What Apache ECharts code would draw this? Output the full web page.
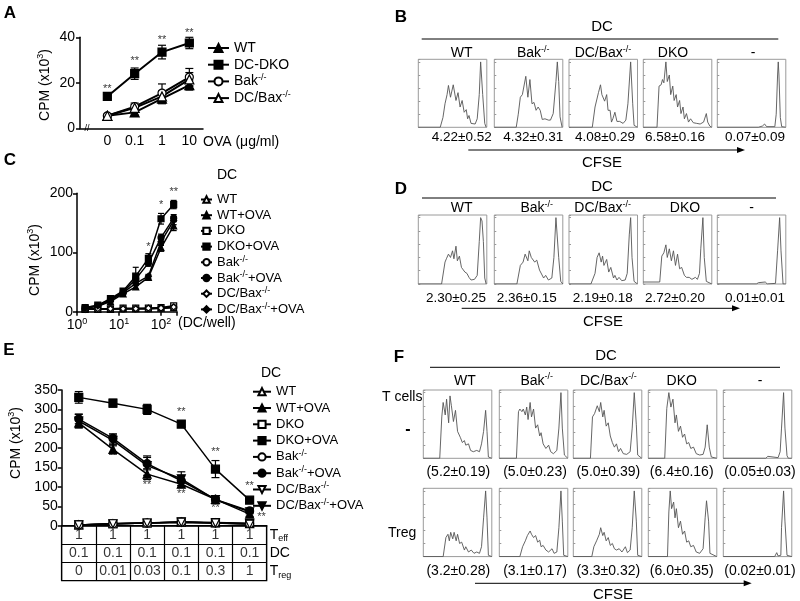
<!DOCTYPE html>
<html><head><meta charset="utf-8">
<script src="https://cdn.jsdelivr.net/npm/echarts@6/dist/echarts.min.js"></script>
<style>html,body{margin:0;padding:0;background:#fff}#c{width:800px;height:601px}</style>
</head><body><div id="c"></div>
<script>
// ================= DATA =================
// ---- Panel A : CPM (x10^3) vs OVA dose ----
const ovaLabels = ['0', '0.1', '1', '10'];
const aNames = ['WT', 'DC-DKO', 'Bak-/-', 'DC/Bax-/-'];
const aWT = [5.5, 7, 13, 19];
const aWTerr = [0.6, 1.2, 2.2, 2.2];
const aDKO = [14, 24, 33.5, 37.5];
const aDKOerr = [0.8, 2.5, 3, 2.5];
const aBak = [5.5, 9.5, 15.5, 22.5];
const aBakErr = [0.6, 1.6, 4, 3.8];
const aBax = [5.5, 9, 14, 21.5];
const aBaxErr = [0.6, 1.5, 2.5, 3];
const aSigText = ['**', '**', '**', '**'];
const aSigY = [17.5, 29.5, 39, 42];

// ---- Panel C : CPM vs DC/well ----
const cDCwell = [1.5625, 3.125, 6.25, 12.5, 25, 50, 100, 200];
const cTickValues = [1, 10, 100];
const cTickLabels = ['10^0', '10^1', '10^2'];
const cNames = ['WT', 'WT+OVA', 'DKO', 'DKO+OVA', 'Bak-/-', 'Bak-/-+OVA', 'DC/Bax-/-', 'DC/Bax-/-+OVA'];
const cWT = [4, 4, 4, 5, 5, 5, 6, 7];
const cWTova = [6, 9, 17, 30, 42, 58, 108, 145];
const cWTovaErr = [1, 1, 2, 3, 4, 3, 6, 8];
const cDKO = [5, 5, 5, 6, 6, 6, 7, 10];
const cDKOova = [7, 11, 22, 35, 60, 90, 157, 181];
const cDKOovaErr = [1, 1, 2, 3, 15, 8, 9, 7];
const cBak = [4, 4, 5, 5, 5, 5, 6, 7];
const cBakOva = [7, 10, 21, 33, 55, 82, 125, 158];
const cBakOvaErr = [1, 1, 2, 3, 4, 5, 6, 6];
const cBax = [4, 5, 5, 5, 5, 6, 6, 8];
const cBaxOva = [6, 10, 19, 32, 48, 60, 118, 154];
const cBaxOvaErr = [1, 1, 2, 3, 4, 3, 6, 7];
const cSigX = [50, 100, 200];
const cSigY = [109, 180, 203];
const cSigText = ['*', '*', '**'];

// ---- Panel E : CPM vs Treg ratio ----
const eTeffRow = ['1', '1', '1', '1', '1', '1'];
const eDCRow = ['0.1', '0.1', '0.1', '0.1', '0.1', '0.1'];
const eTregRow = ['0', '0.01', '0.03', '0.1', '0.3', '1'];
const eRowLabels = ['T_eff', 'DC', 'T_reg'];
const eNames = ['WT', 'WT+OVA', 'DKO', 'DKO+OVA', 'Bak-/-', 'Bak-/-+OVA', 'DC/Bax-/-', 'DC/Bax-/-+OVA'];
const eWT = [2, 5, 7, 9, 7, 5];
const eWTova = [265, 197, 133, 107, 68, 30];
const eWTovaErr = [12, 12, 14, 8, 4, 6];
const eDKO = [2, 5, 7, 10, 8, 6];
const eDKOova = [331, 316, 300, 262, 146, 66];
const eDKOovaErr = [15, 10, 13, 8, 22, 3];
const eBak = [2, 5, 7, 9, 7, 5];
const eBakOva = [275, 225, 160, 116, 68, 38];
const eBakOvaErr = [12, 12, 16, 12, 4, 4];
const eBax = [2, 5, 7, 9, 7, 4];
const eBaxOva = [270, 220, 155, 121, 67, 36];
const eBaxOvaErr = [18, 14, 25, 18, 4, 5];
const eSigAboveX = [3, 4, 5];
const eSigAboveY = [293, 191, 102];
const eSigBelowX = [1, 2, 3, 4];
const eSigBelowY = [180, 104, 83, 45];
const eSigRightY = 28; // the one beside the last point
const eSigText = '**';

// ---- Histograms (CFSE intensity %, relative count %) ----
const histColLabels = ['WT', 'Bak-/-', 'DC/Bax-/-', 'DKO', '-'];
const bValues = ['4.22±0.52', '4.32±0.31', '4.08±0.29', '6.58±0.16', '0.07±0.09'];
const dValues = ['2.30±0.25', '2.36±0.15', '2.19±0.18', '2.72±0.20', '0.01±0.01'];
const f1Values = ['(5.2±0.19)', '(5.0±0.23)', '(5.0±0.39)', '(6.4±0.16)', '(0.05±0.03)'];
const f2Values = ['(3.2±0.28)', '(3.1±0.17)', '(3.3±0.32)', '(6.0±0.35)', '(0.02±0.01)'];

const histB_WT = [[0,0],[32,0],[36,15],[39,36],[42,50],[44,64],[47,46],[51,65],[55,41],[58,53],[61,31],[64,41],[67,23],[70,27],[72,13],[74,18],[77,6],[83,5],[86,13],[89,50],[91,100],[94,50],[97,6],[99,0],[100,0]];
const histB_Bak = [[0,0],[32,0],[35,20],[38,46],[41,50],[46,78],[49,46],[52,73],[55,36],[58,38],[61,26],[64,31],[67,26],[70,12],[74,13],[79,11],[82,11],[86,21],[90,70],[92,100],[94,70],[96,16],[99,0],[100,0]];
const histB_Bax = [[0,0],[34,0],[38,31],[43,53],[46,65],[48,50],[50,51],[52,40],[55,50],[57,26],[60,26],[62,8],[64,13],[67,23],[70,9],[74,9],[79,6],[83,11],[86,36],[90,100],[93,36],[95,3],[100,0]];
const histB_DKO = [[0,0],[20,0],[23,63],[26,65],[28,73],[30,68],[33,100],[35,70],[38,80],[40,50],[43,63],[45,41],[48,50],[50,31],[53,41],[55,21],[58,31],[60,13],[63,21],[66,8],[69,13],[73,7],[78,6],[83,5],[88,8],[92,21],[94,8],[97,2],[100,0]];
const histB_None = [[0,0],[60,0],[66,2],[69,5],[72,1],[84,1],[86,20],[88,80],[89,100],[90,80],[92,15],[94,1],[100,0]];

const histD_WT = [[0,0],[34,0],[39,33],[41,38],[44,45],[47,40],[50,50],[52,38],[55,57],[57,35],[60,42],[63,25],[65,28],[68,18],[71,16],[74,10],[77,6],[82,7],[86,13],[89,64],[91,100],[93,95],[95,64],[97,9],[99,0],[100,0]];
const histD_Bak = [[0,0],[33,0],[38,28],[42,33],[45,45],[49,35],[51,50],[54,40],[56,42],[59,33],[62,36],[66,21],[68,18],[72,9],[75,13],[79,6],[84,9],[87,40],[90,100],[92,98],[94,40],[97,4],[100,0]];
const histD_Bax = [[0,0],[32,0],[38,16],[41,40],[44,47],[47,33],[49,42],[51,28],[55,37],[58,18],[61,25],[65,9],[67,13],[70,6],[73,10],[77,5],[82,6],[85,16],[88,74],[90,100],[92,40],[95,4],[100,0]];
const histD_DKO = [[0,3],[24,3],[27,42],[30,47],[33,59],[35,40],[38,53],[41,35],[44,50],[47,28],[50,45],[53,23],[56,25],[60,13],[63,10],[67,10],[71,7],[76,10],[79,7],[82,16],[84,54],[87,100],[89,40],[92,4],[100,0]];
const histD_None = [[0,0],[57,0],[60,2],[62,0],[70,3],[73,0],[85,1],[88,50],[91,100],[93,50],[96,0],[100,0]];

const histF1_WT = [[0,0],[24,0],[27,63],[29,85],[32,66],[34,90],[37,54],[39,95],[41,80],[44,56],[47,73],[50,41],[54,32],[57,24],[60,27],[62,20],[66,22],[69,12],[73,10],[78,12],[82,10],[85,22],[88,41],[91,73],[93,41],[95,2],[100,0]];
const histF1_Bak = [[0,0],[25,0],[28,71],[30,75],[33,71],[35,75],[38,66],[40,78],[42,59],[45,85],[47,63],[50,75],[53,46],[56,51],[59,34],[61,39],[64,22],[68,15],[72,20],[75,10],[79,7],[84,12],[87,46],[90,100],[92,46],[95,5],[100,0]];
const histF1_Bax = [[0,0],[25,0],[28,63],[31,68],[33,66],[35,80],[38,71],[40,85],[43,63],[45,73],[48,49],[51,54],[54,34],[57,24],[60,17],[63,22],[66,10],[69,15],[73,7],[78,6],[83,10],[86,46],[89,100],[92,51],[94,5],[100,0]];
const histF1_DKO = [[0,0],[24,0],[27,76],[30,100],[33,78],[36,90],[39,54],[41,66],[44,41],[47,49],[50,32],[53,37],[56,22],[59,24],[62,15],[66,17],[70,7],[75,5],[80,6],[83,17],[86,51],[89,17],[92,2],[100,0]];
const histF1_None = [[0,0],[62,0],[65,3],[67,1],[80,1],[83,10],[85,46],[88,100],[90,46],[93,4],[95,0],[100,0]];

const histF2_WT = [[0,0],[29,0],[33,29],[36,34],[38,24],[40,37],[43,27],[45,37],[48,24],[50,34],[53,20],[56,22],[60,10],[62,15],[66,7],[70,10],[74,5],[78,7],[82,5],[85,15],[88,59],[91,100],[93,59],[95,2],[100,0]];
const histF2_Bak = [[0,0],[30,0],[34,15],[38,24],[41,32],[45,39],[47,34],[50,29],[53,32],[56,22],[59,25],[61,15],[64,17],[68,10],[72,7],[77,12],[80,5],[84,7],[87,44],[90,100],[92,54],[94,2],[100,0]];
const histF2_Bax = [[0,0],[27,0],[30,15],[34,24],[38,34],[40,44],[43,32],[45,37],[48,24],[51,29],[54,17],[57,20],[60,12],[63,10],[67,12],[71,7],[76,15],[79,6],[83,10],[86,44],[89,100],[92,54],[94,2],[100,0]];
const histF2_DKO = [[0,0],[28,0],[30,68],[32,100],[34,73],[37,83],[39,59],[41,73],[44,44],[47,54],[50,34],[53,39],[56,22],[59,24],[62,15],[66,17],[70,7],[75,5],[80,12],[83,59],[85,85],[88,54],[90,5],[100,0]];
const histF2_None = [[0,0],[75,0],[78,6],[80,1],[84,2],[85,44],[88,100],[90,54],[93,2],[100,0]];

// ================= BUILD =================
const FF = '"Liberation Sans", Arial, Helvetica, sans-serif';
const RICH = {
  sup: { fontSize: 9, lineHeight: 8, verticalAlign: 'top', fontFamily: FF, color: '#000' },
  sub: { fontSize: 9, lineHeight: 8, verticalAlign: 'bottom', fontFamily: FF, color: '#000' }
};
function rt(s) {
  return s.replace('-/-', '{sup|-/-}').replace(/\^(\w+)/, '{sup|$1}').replace(/_(\w+)/, '{sub|$1}');
}
const DOWN_TRI = 'path://M0,0L10,0L5,9Z';

const grids = [], xAxes = [], yAxes = [], series = [], graphics = [], legends = [];
function addGrid(g, xa, ya) {
  grids.push(g);
  const gi = grids.length - 1;
  xa.gridIndex = gi; ya.gridIndex = gi;
  xAxes.push(xa); yAxes.push(ya);
  return gi;
}
const blackAxisLine = { show: true, lineStyle: { color: '#000', width: 1.5 } };
const tickLabel = (size) => ({ fontSize: size, fontFamily: FF, color: '#000' });

function lineSeries(gi, name, data, sym, filled, size, lw) {
  return {
    type: 'line', name: name, xAxisIndex: gi, yAxisIndex: gi, data: data,
    symbol: sym, symbolSize: size, showSymbol: true, z: 3,
    lineStyle: { color: '#000', width: lw },
    itemStyle: { color: filled ? '#000' : '#fff', borderColor: '#000', borderWidth: 1.2 },
    emphasis: { disabled: true }, animation: false
  };
}
function errSeries(gi, xs, ys, es, cap) {
  return {
    type: 'custom', xAxisIndex: gi, yAxisIndex: gi, z: 2, animation: false, silent: true,
    data: xs.map((x, i) => [x, ys[i] - es[i], ys[i] + es[i]]),
    encode: { x: 0, y: [1, 2] },
    renderItem: function (params, api) {
      const x = api.value(0);
      const p1 = api.coord([x, api.value(1)]);
      const p2 = api.coord([x, api.value(2)]);
      const st = { stroke: '#000', lineWidth: 1.2 };
      return { type: 'group', children: [
        { type: 'line', shape: { x1: p1[0], y1: p1[1], x2: p2[0], y2: p2[1] }, style: st },
        { type: 'line', shape: { x1: p2[0] - cap, y1: p2[1], x2: p2[0] + cap, y2: p2[1] }, style: st },
        { type: 'line', shape: { x1: p1[0] - cap, y1: p1[1], x2: p1[0] + cap, y2: p1[1] }, style: st }
      ] };
    }
  };
}
function sigSeries(gi, pts, size) {
  return {
    type: 'scatter', xAxisIndex: gi, yAxisIndex: gi, data: pts, symbolSize: 1, clip: false,
    itemStyle: { color: 'rgba(0,0,0,0)' }, silent: true, z: 5, animation: false,
    label: { show: true, position: 'inside', formatter: p => p.data[2], fontSize: size, fontFamily: FF, color: '#000' }
  };
}
function legendFor(names, left, top, lh, gap, iw, ih, fs) {
  return {
    orient: 'vertical', left: left, top: top, padding: 0, itemGap: gap, itemWidth: iw, itemHeight: ih,
    selectedMode: false, data: names,
    formatter: n => rt(n.split('|')[1]),
    textStyle: { fontSize: fs, fontFamily: FF, color: '#000', lineHeight: lh, rich: RICH }
  };
}
function T(x, y, text, size, extra) {
  return Object.assign({ type: 'text', x: x, y: y, silent: true,
    style: Object.assign({ text: rt(text), fontSize: size, fontFamily: FF, fill: '#000', align: 'center', verticalAlign: 'middle', lineHeight: size + 3, rich: RICH }, (extra && extra.style) || {}) },
    extra && extra.rotation ? { rotation: extra.rotation } : {});
}
function L(x1, y1, x2, y2, w) {
  return { type: 'line', silent: true, shape: { x1, y1, x2, y2 }, style: { stroke: '#000', lineWidth: w || 1 } };
}
function arrow(x1, x2, y) {
  graphics.push(L(x1, y, x2 - 4, y, 1));
  graphics.push({ type: 'polygon', silent: true, shape: { points: [[x2, y], [x2 - 8, y - 3], [x2 - 8, y + 3]] }, style: { fill: '#000' } });
}

// ---------- Panel A ----------
{
  const gi = addGrid({ left: 80, top: 37.3, width: 123, height: 91 },
    { type: 'value', min: 0, max: 4.5, interval: 1, axisLine: blackAxisLine, axisTick: { show: false }, splitLine: { show: false },
      axisLabel: Object.assign(tickLabel(14), { margin: 6, formatter: v => (Number.isInteger(v) && v >= 1 && v <= 4) ? ovaLabels[v - 1] : '' }) },
    { type: 'value', min: 0, max: 40, interval: 20, axisLine: blackAxisLine, axisTick: { show: true, length: 4, lineStyle: { color: '#000', width: 1.5 } },
      splitLine: { show: false }, axisLabel: Object.assign(tickLabel(14), { margin: 5 }) });
  const xs = ovaLabels.map((_, i) => i + 1);
  const pair = ys => ys.map((v, i) => [xs[i], v]);
  series.push(errSeries(gi, xs, aWT, aWTerr, 4), errSeries(gi, xs, aDKO, aDKOerr, 4), errSeries(gi, xs, aBak, aBakErr, 4), errSeries(gi, xs, aBax, aBaxErr, 4));
  series.push(lineSeries(gi, 'A|' + aNames[0], pair(aWT), 'triangle', true, 9, 2));
  series.push(lineSeries(gi, 'A|' + aNames[1], pair(aDKO), 'rect', true, 8, 2));
  series.push(lineSeries(gi, 'A|' + aNames[2], pair(aBak), 'circle', false, 8, 2));
  series.push(lineSeries(gi, 'A|' + aNames[3], pair(aBax), 'triangle', false, 9, 2));
  series.push(sigSeries(gi, xs.map((x, i) => [x, aSigY[i], aSigText[i]]), 11));
  legends.push(legendFor(aNames.map(n => 'A|' + n), 207, 40, 16, 0.7, 21, 10, 14));
  graphics.push(T(45, 85, 'CPM (x10^3)', 14, { rotation: Math.PI / 2 }));
  graphics.push(T(203, 142, 'OVA (μg/ml)', 14, { style: { align: 'left' } }));
  graphics.push(T(87, 128.5, '//', 9, { style: { fontSize: 9 } }));
  graphics.push(T(10, 13, 'A', 17, { style: { fontWeight: 'bold' } }));
}

// ---------- Panel C ----------
{
  const gi = addGrid({ left: 77, top: 193.3, width: 100, height: 118.4 },
    { type: 'log', logBase: 10, min: 1, max: 240, axisLine: blackAxisLine, axisTick: { show: true, length: 4, lineStyle: { color: '#000', width: 1.5 } },
      splitLine: { show: false }, minorTick: { show: false },
      axisLabel: Object.assign(tickLabel(14), { margin: 5, rich: { sup: RICH.sup }, lineHeight: 17,
        formatter: v => { const k = cTickValues.findIndex(t => Math.abs(t - v) < 1e-6); return k >= 0 ? rt(cTickLabels[k]) : ''; } }) },
    { type: 'value', min: 0, max: 200, interval: 100, axisLine: blackAxisLine, axisTick: { show: true, length: 4, lineStyle: { color: '#000', width: 1.5 } },
      splitLine: { show: false }, axisLabel: Object.assign(tickLabel(14), { margin: 4 }) });
  const pair = ys => ys.map((v, i) => [cDCwell[i], v]);
  series.push(errSeries(gi, cDCwell, cWTova, cWTovaErr, 3), errSeries(gi, cDCwell, cDKOova, cDKOovaErr, 3),
    errSeries(gi, cDCwell, cBakOva, cBakOvaErr, 3), errSeries(gi, cDCwell, cBaxOva, cBaxOvaErr, 3));
  const defs = [[cWT, 'triangle', false], [cWTova, 'triangle', true], [cDKO, 'rect', false], [cDKOova, 'rect', true],
    [cBak, 'circle', false], [cBakOva, 'circle', true], [cBax, 'diamond', false], [cBaxOva, 'diamond', true]];
  defs.forEach((d, i) => series.push(lineSeries(gi, 'C|' + cNames[i], pair(d[0]), d[1], d[2], 6, 1.5)));
  series.push(sigSeries(gi, cSigX.map((x, i) => [x, cSigY[i], cSigText[i]]), 11));
  legends.push(legendFor(cNames.map(n => 'C|' + n), 200, 192, 15, 0.7, 11, 8, 13));
  graphics.push(T(227, 175, 'DC', 14));
  graphics.push(T(35, 260, 'CPM (x10^3)', 14, { rotation: Math.PI / 2 }));
  graphics.push(T(178, 323, '(DC/well)', 14, { style: { align: 'left' } }));
  graphics.push(T(10, 160, 'C', 17, { style: { fontWeight: 'bold' } }));
}

// ---------- Panel E ----------
{
  const gi = addGrid({ left: 61.7, top: 390, width: 205, height: 135.7 },
    { type: 'category', data: eTregRow, boundaryGap: true, axisLine: blackAxisLine, axisTick: { show: false }, axisLabel: { show: false } },
    { type: 'value', min: 0, max: 350, interval: 50, axisLine: blackAxisLine, axisTick: { show: true, length: 4, lineStyle: { color: '#000', width: 1.5 } },
      splitLine: { show: false }, axisLabel: Object.assign(tickLabel(14), { margin: 4 }) });
  const xs = eTregRow.map((_, i) => i);
  series.push(errSeries(gi, xs, eWTova, eWTovaErr, 4), errSeries(gi, xs, eDKOova, eDKOovaErr, 4),
    errSeries(gi, xs, eBakOva, eBakOvaErr, 4), errSeries(gi, xs, eBaxOva, eBaxOvaErr, 4));
  const defs = [[eWT, 'triangle', false], [eWTova, 'triangle', true], [eDKO, 'rect', false], [eDKOova, 'rect', true],
    [eBak, 'circle', false], [eBakOva, 'circle', true], [eBax, DOWN_TRI, false], [eBaxOva, DOWN_TRI, true]];
  defs.forEach((d, i) => series.push(lineSeries(gi, 'E|' + eNames[i], d[0], d[1], d[2], 8, 1.5)));
  const sig = eSigAboveX.map((x, i) => [x, eSigAboveY[i], eSigText]).concat(eSigBelowX.map((x, i) => [x, eSigBelowY[i], eSigText]));
  series.push(sigSeries(gi, sig, 11));
  const sr = sigSeries(gi, [[5, eSigRightY, eSigText]], 11);
  sr.label.offset = [12, 2];
  series.push(sr);
  legends.push(legendFor(eNames.map(n => 'E|' + n), 252, 383.7, 16, 0.3, 18, 9, 13));
  graphics.push(T(271, 373, 'DC', 14));
  graphics.push(T(16, 443, 'CPM (x10^3)', 14, { rotation: Math.PI / 2 }));
  graphics.push(T(9, 350, 'E', 17, { style: { fontWeight: 'bold' } }));

  // table grid under E
  const ti = addGrid({ left: 61.7, top: 525.7, width: 205, height: 55, show: true, borderColor: '#000', borderWidth: 1.2 },
    { type: 'category', data: eTregRow, boundaryGap: true, axisLine: { show: false }, axisTick: { show: false }, axisLabel: { show: false },
      splitLine: { show: true, interval: 0, lineStyle: { color: '#000', width: 1.2 } } },
    { type: 'category', data: eRowLabels.slice().reverse(), boundaryGap: true, position: 'right', axisLine: { show: false }, axisTick: { show: false },
      splitLine: { show: true, interval: 0, lineStyle: { color: '#000', width: 1.2 } },
      axisLabel: { interval: 0, margin: 3, fontSize: 14, fontFamily: FF, color: '#000', lineHeight: 16, rich: RICH, formatter: v => rt(v) } });
  const rows = [eTregRow, eDCRow, eTeffRow];
  const cells = [];
  rows.forEach((r, ri) => r.forEach((t, ci) => cells.push([ci, ri, t])));
  series.push({ type: 'scatter', xAxisIndex: ti, yAxisIndex: ti, data: cells, symbolSize: 1, itemStyle: { color: 'rgba(0,0,0,0)' }, silent: true, animation: false,
    label: { show: true, position: 'inside', formatter: p => p.data[2], fontSize: 14, fontFamily: FF, color: '#000' } });
}

// ---------- Histogram panels ----------
function histGrid(left, top, w, h, data) {
  const gi = addGrid({ left: left, top: top, width: w, height: h, show: true, borderColor: '#9a9a9a', borderWidth: 1 },
    { type: 'value', min: 0, max: 100, axisLine: { show: false }, axisTick: { show: false }, axisLabel: { show: false }, splitLine: { show: false } },
    { type: 'value', min: 0, max: 104, interval: 20, axisLine: { show: false }, axisLabel: { show: false }, splitLine: { show: false },
      axisTick: { show: true, inside: true, length: 2, lineStyle: { color: '#999', width: 1 } } });
  series.push({ type: 'line', xAxisIndex: gi, yAxisIndex: gi, data: data, showSymbol: false, symbol: 'none', silent: true, animation: false,
    lineStyle: { color: '#555', width: 0.9 } });
}
const BW = 68.5;
const bdLefts = [418.3, 494.3, 569, 643.3, 717.3];
const fLefts = [423.3, 499.3, 573.3, 648.3, 723.3];
[histB_WT, histB_Bak, histB_Bax, histB_DKO, histB_None].forEach((d, i) => histGrid(bdLefts[i], 59.3, BW, 68, d));
[histD_WT, histD_Bak, histD_Bax, histD_DKO, histD_None].forEach((d, i) => histGrid(bdLefts[i], 215, BW, 69, d));
[histF1_WT, histF1_Bak, histF1_Bax, histF1_DKO, histF1_None].forEach((d, i) => histGrid(fLefts[i], 390, BW, 68.3, d));
[histF2_WT, histF2_Bak, histF2_Bax, histF2_DKO, histF2_None].forEach((d, i) => histGrid(fLefts[i], 488.3, BW, 68.3, d));

// B texts
graphics.push(T(401, 17, 'B', 17, { style: { fontWeight: 'bold' } }));
graphics.push(T(602, 26.5, 'DC', 15));
graphics.push(L(421.7, 39, 778.3, 39, 1));
[461.7, 533.3, 603, 673, 753].forEach((x, i) => graphics.push(T(x, 53.3, histColLabels[i], 14)));
[461.7, 533.3, 605, 675, 755].forEach((x, i) => graphics.push(T(x, 137.3, bValues[i], 13.5)));
arrow(468.3, 745, 150);
graphics.push(T(602, 162.5, 'CFSE', 15));

// D texts
graphics.push(T(401, 189, 'D', 17, { style: { fontWeight: 'bold' } }));
graphics.push(T(602, 187, 'DC', 15));
graphics.push(L(422, 198, 776, 198, 1));
[461.7, 536.7, 602.7, 685, 751.7].forEach((x, i) => graphics.push(T(x, 208.3, histColLabels[i], 14)));
[456, 526.7, 602.7, 675, 755].forEach((x, i) => graphics.push(T(x, 298.3, dValues[i], 13.5)));
arrow(461.7, 740, 308.3);
graphics.push(T(603, 321.7, 'CFSE', 15));

// F texts
graphics.push(T(399, 357, 'F', 17, { style: { fontWeight: 'bold' } }));
graphics.push(T(606, 356, 'DC', 15));
graphics.push(L(430, 367.3, 780, 367.3, 1));
[465, 536.7, 608.3, 681.7, 760].forEach((x, i) => graphics.push(T(x, 380.7, histColLabels[i], 14)));
[458.3, 535, 608.3, 681.7, 760].forEach((x, i) => graphics.push(T(x, 471.7, f1Values[i], 14)));
[458.3, 535, 608.3, 681.7, 760].forEach((x, i) => graphics.push(T(x, 570.7, f2Values[i], 14)));
graphics.push(T(382, 396.7, 'T cells', 14, { style: { align: 'left' } }));
graphics.push(T(408, 430, '-', 16, { style: { fontWeight: 'bold' } }));
graphics.push(T(388, 533.3, 'Treg', 14, { style: { align: 'left' } }));
arrow(475, 751.7, 583.3);
graphics.push(T(613, 594.5, 'CFSE', 15));

const chart = echarts.init(document.getElementById('c'), null, { renderer: 'canvas' });
chart.setOption({
  animation: false,
  backgroundColor: '#fff',
  textStyle: { fontFamily: FF },
  grid: grids, xAxis: xAxes, yAxis: yAxes, series: series, legend: legends,
  graphic: { elements: graphics }
});
</script></body></html>
